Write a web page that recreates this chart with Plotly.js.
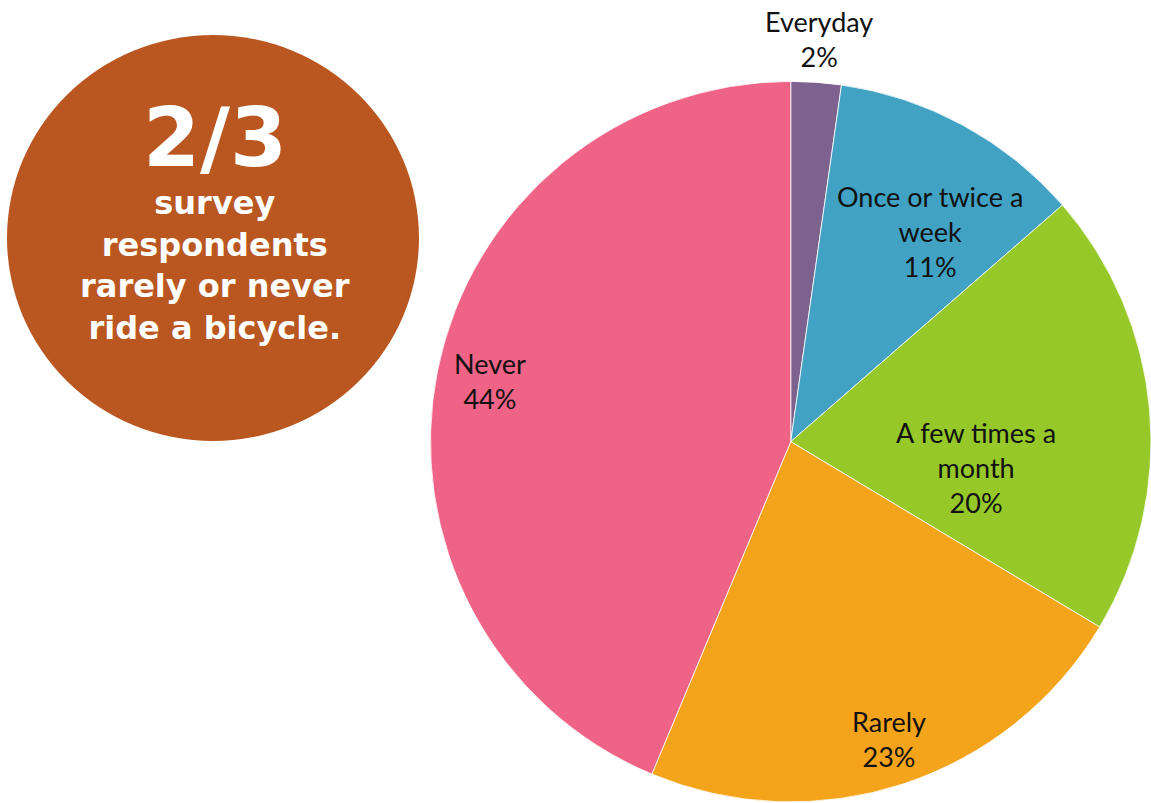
<!DOCTYPE html>
<html>
<head>
<meta charset="utf-8">
<script src="https://cdn.plot.ly/plotly-3.0.1.min.js"></script>
<style>
  html, body { margin: 0; padding: 0; background: #fff; overflow: hidden; }
  #chart { width: 1151px; height: 803px; }
</style>
</head>
<body>
<div id="chart"></div>
<script>
// How often survey respondents ride a bicycle (share of respondents, %)
const categories = ['Everyday', 'Once or twice a week', 'A few times a month', 'Rarely', 'Never'];
const labelText = ['Everyday', 'Once or twice a<br>week', 'A few times a<br>month', 'Rarely', 'Never'];
const shares = [2.25, 11.35, 20.0, 22.7, 43.7];
const sliceColors = ['#7d6290', '#41a2c3', '#95c828', '#f4a41b', '#ef6486'];
// label placement: fraction of radius, and a nudge (degrees) off the slice's mid angle
const labelRadius = [1.12, 0.70, 0.52, 0.87, 0.85];
const labelNudge = [0, 5, 13, 0, 0];

const headline = '2/3';
const subline = 'survey<br>respondents<br>rarely or never<br>ride a bicycle.';

const W = 1151, H = 803;
const pieDomain = { x: [0.374, 1], y: [0, 0.9] };

const data = [{
  type: 'pie',
  labels: categories,
  values: shares,
  sort: false,
  direction: 'clockwise',
  rotation: 0,
  marker: { colors: sliceColors, line: { color: '#ffffff', width: 0.8 } },
  textinfo: 'none',
  hoverinfo: 'label+percent',
  domain: pieDomain,
}];

// slice labels, placed around each slice's mid angle
const total = shares.reduce((a, b) => a + b, 0);
const cx = (pieDomain.x[0] + pieDomain.x[1]) / 2;
const cy = (pieDomain.y[0] + pieDomain.y[1]) / 2;
const radiusPx = Math.min((pieDomain.x[1] - pieDomain.x[0]) * W, (pieDomain.y[1] - pieDomain.y[0]) * H) / 2;
let cum = 0;
const sliceLabels = shares.map((v, i) => {
  const mid = (cum + v / 2) / total * 2 * Math.PI + labelNudge[i] * Math.PI / 180;
  cum += v;
  const r = radiusPx * labelRadius[i];
  return {
    text: labelText[i] + '<br>' + Math.round(v / total * 100) + '%',
    xref: 'paper', yref: 'paper',
    x: cx + r * Math.sin(mid) / W,
    y: cy + r * Math.cos(mid) / H,
    xanchor: 'center', yanchor: 'middle',
    showarrow: false,
    font: { family: 'Lato, sans-serif', size: 27, color: '#111111' },
  };
});

const layout = {
  width: W,
  height: H,
  paper_bgcolor: '#ffffff',
  margin: { l: 0, r: 0, t: 0, b: 0 },
  showlegend: false,
  shapes: [{
    type: 'circle',
    xref: 'paper', yref: 'paper',
    x0: 7 / W, x1: 419 / W,
    y0: (H - 441) / H, y1: (H - 35) / H,
    fillcolor: '#ba5720',
    line: { width: 0 },
    layer: 'below',
  }],
  annotations: [
    {
      text: headline,
      xref: 'paper', yref: 'paper',
      x: 215 / W, y: (H - 137) / H,
      xanchor: 'center', yanchor: 'middle',
      showarrow: false, borderpad: 0,
      font: { family: 'DejaVu Sans, sans-serif', size: 82, color: '#ffffff', weight: 'bold' },
    },
    {
      text: subline,
      xref: 'paper', yref: 'paper',
      x: 215 / W, y: (H - 265) / H,
      xanchor: 'center', yanchor: 'middle',
      showarrow: false, borderpad: 0,
      font: { family: 'DejaVu Sans, sans-serif', size: 32, color: '#ffffff', weight: 'bold' },
    },
  ].concat(sliceLabels),
};

Plotly.newPlot('chart', data, layout, { displayModeBar: false, staticPlot: true });
</script>
</body>
</html>
